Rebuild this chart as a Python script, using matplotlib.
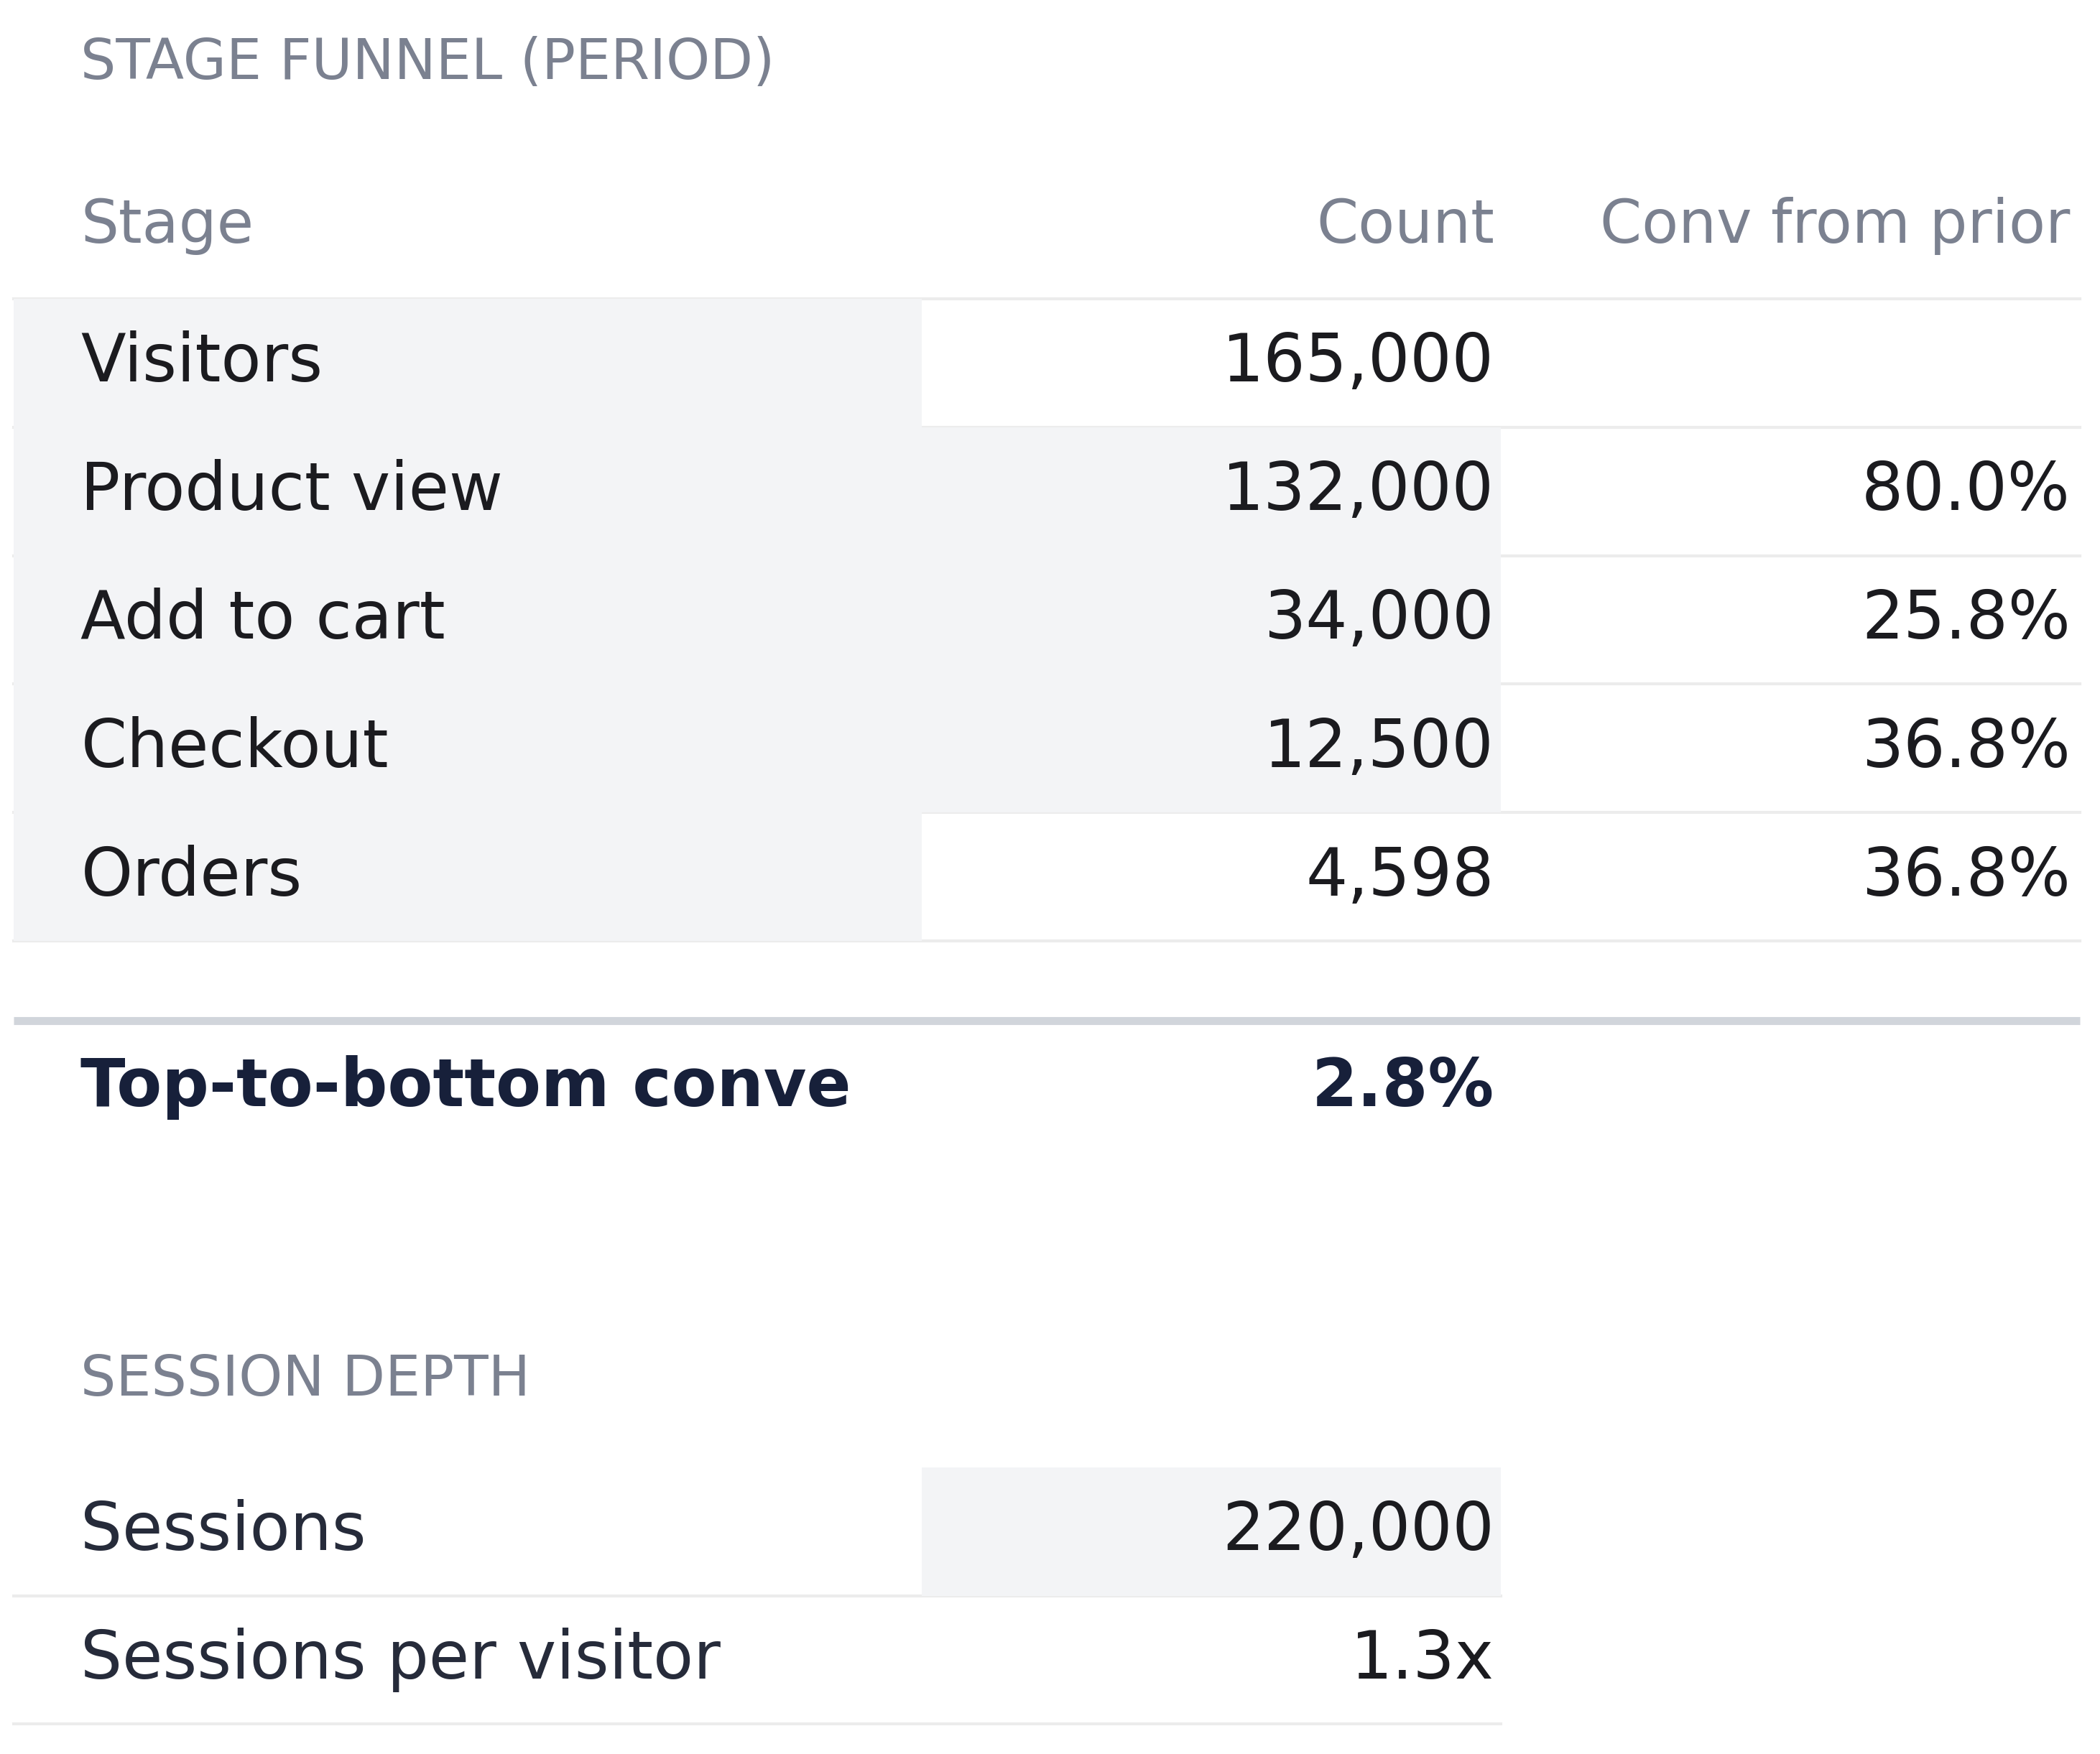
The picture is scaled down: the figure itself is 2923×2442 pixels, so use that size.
import matplotlib
matplotlib.use("Agg")
import matplotlib.pyplot as plt
from matplotlib.patches import Rectangle

stages = ["Visitors", "Product view", "Add to cart", "Checkout", "Orders"]
counts = ["165,000", "132,000", "34,000", "12,500", "4,598"]
convs = ["", "80.0%", "25.8%", "36.8%", "36.8%"]
total_label = "Top-to-bottom conve"
total_value = "2.8%"
session_labels = ["Sessions", "Sessions per visitor"]
session_values = ["220,000", "1.3x"]

W, H = 1560, 1303
fig = plt.figure(figsize=(29.23, 24.42), dpi=100)
ax = fig.add_axes([0, 0, 1, 1])
ax.set_xlim(0, W); ax.set_ylim(H, 0); ax.axis("off")

GREY = "#f3f4f6"; LINE = "#ececec"; HDR = "#7b8190"; TXT = "#1b1b1f"
fs_title, fs_hdr, fs_row = 56, 60, 66

ax.text(60, 47, "STAGE FUNNEL (PERIOD)", fontsize=fs_title, color=HDR, va="center")
ax.text(60, 168, "Stage", fontsize=fs_hdr, color=HDR, va="center")
ax.text(1110, 168, "Count", fontsize=fs_hdr, color=HDR, va="center", ha="right")
ax.text(1538, 168, "Conv from prior", fontsize=fs_hdr, color=HDR, va="center", ha="right")

top, rh = 222, 95.4
for i in range(len(stages) + 1):
    y = top + i * rh
    ax.plot([10, 1545], [y, y], color=LINE, lw=3, zorder=1)
ax.add_patch(Rectangle((10, top), 675, rh * len(stages), color=GREY, zorder=2, lw=0))
ax.add_patch(Rectangle((685, top + rh), 430, rh * 3, color=GREY, zorder=2, lw=0))
for i, (s, c, v) in enumerate(zip(stages, counts, convs)):
    yc = top + (i + 0.5) * rh
    ax.text(60, yc, s, fontsize=fs_row, color=TXT, va="center", zorder=3)
    ax.text(1110, yc, c, fontsize=fs_row, color=TXT, va="center", ha="right", zorder=3)
    if v:
        ax.text(1538, yc, v, fontsize=fs_row, color=TXT, va="center", ha="right", zorder=3)

ax.plot([10, 1545], [758, 758], color="#d1d5db", lw=8, solid_capstyle="butt")
ax.text(60, 808, total_label, fontsize=fs_row, color="#17203a", va="center", fontweight="bold")
ax.text(1110, 808, total_value, fontsize=fs_row, color="#17203a", va="center", ha="right", fontweight="bold")

ax.text(60, 1025, "SESSION DEPTH", fontsize=fs_title, color=HDR, va="center")
stop = 1090
ax.add_patch(Rectangle((685, stop), 430, rh, color=GREY, zorder=2, lw=0))
for i, (l, v) in enumerate(zip(session_labels, session_values)):
    yc = stop + (i + 0.5) * rh
    ax.text(60, yc, l, fontsize=fs_row, color="#262b3a", va="center", zorder=3)
    ax.text(1110, yc, v, fontsize=fs_row, color=TXT, va="center", ha="right", zorder=3)
    ax.plot([10, 1115], [stop + (i + 1) * rh] * 2, color=LINE, lw=3, zorder=1)

fig.savefig("out.png", dpi=100)
